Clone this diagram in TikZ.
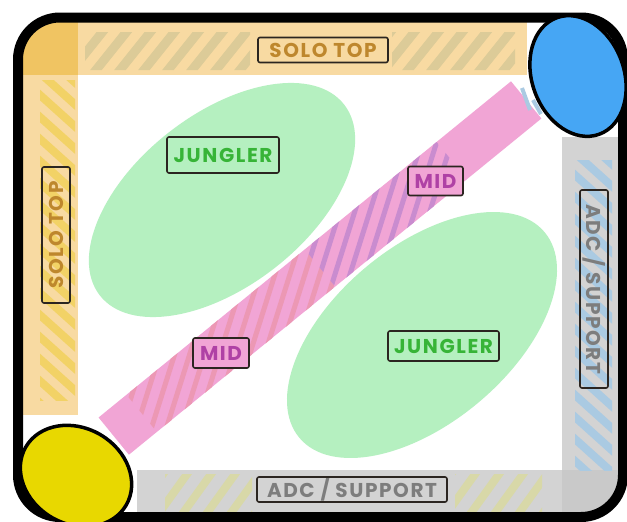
\documentclass[tikz,border=0pt]{standalone}
\usepackage{fontspec}
\newfontfamily\lblfont{Poppins}[LetterSpace=8]
\definecolor{bandorange}{HTML}{F8DAA2}
\definecolor{cornerorange}{HTML}{F0C462}
\definecolor{bandgray}{HTML}{D3D3D3}
\definecolor{cornergray}{HTML}{C9C9C9}
\definecolor{hatchtan}{HTML}{DCCB98}
\definecolor{hatchyellow}{HTML}{F2D266}
\definecolor{hatchblue}{HTML}{AACAE2}
\definecolor{hatchkhaki}{HTML}{D8D8A8}
\definecolor{lanepink}{HTML}{F1A5D5}
\definecolor{hatchpurple}{HTML}{C98CCF}
\definecolor{hatchsalmon}{HTML}{EC98B4}
\definecolor{junglegreen}{HTML}{B5F0C0}
\definecolor{bluebase}{HTML}{46A6F4}
\definecolor{yellowbase}{HTML}{E8D800}
\definecolor{txtsolo}{HTML}{BE872D}
\definecolor{txtjungle}{HTML}{37B437}
\definecolor{txtmid}{HTML}{AF41A5}
\definecolor{txtadc}{HTML}{7D7D7D}
\definecolor{lblborder}{HTML}{2B2520}
\begin{document}
\begin{tikzpicture}[x=1pt,y=-1pt,
  lbl/.style={draw=lblborder, line width=1.6pt, rounded corners=2pt, inner sep=0pt,
    font=\lblfont\bfseries\fontsize{20}{20}\selectfont},
  stripe/.style={line width=#1},
  base/.style={draw=black, line width=3.5pt}]
\useasboundingbox (0,0) rectangle (627,522);
\fill[white] (0,0) rectangle (627,522);
\begin{scope}
\clip[rounded corners=42pt] (18,17.5) rectangle (623,517);
% lanes along the edges
\fill[bandorange] (18,17) rectangle (527,75);
\fill[bandorange] (18,17) rectangle (78,415);
\fill[cornerorange] (18,17) rectangle (78,75);
\fill[bandgray] (562,137) rectangle (623,517);
\fill[bandgray] (137,470) rectangle (623,517);
\fill[cornergray] (562,470) rectangle (623,517);
\end{scope}
% hatches
\begin{scope}
  \clip (85,32) rectangle (250,70) (392,32) rectangle (515,70);
  \foreach \x in {40,64,...,540} \draw[hatchtan, stripe=9pt] (\x,80) -- ++(44,-55);
\end{scope}
\begin{scope}
  \clip (40,80) rectangle (75,400);
  \foreach \y in {20,42,...,420} \draw[hatchyellow, stripe=8pt] (30,\y) -- ++(50,45);
\end{scope}
\begin{scope}
  \clip (575,160) rectangle (612,470);
  \foreach \y in {100,122,...,480} \draw[hatchblue, stripe=8pt] (565,\y) -- ++(50,45);
\end{scope}
\begin{scope}
  \clip (165,474) rectangle (252,512) (455,474) rectangle (542,512);
  \foreach \x in {130,154,...,560} \draw[hatchkhaki, stripe=8pt] (\x,520) -- ++(36,-50);
\end{scope}
% jungle areas
\fill[junglegreen, rotate around={38:(222,200)}] (222,200) ellipse [x radius=155pt, y radius=86pt];
\fill[junglegreen, rotate around={40:(422,335)}] (422,335) ellipse [x radius=160pt, y radius=88pt];
% mid lane
\fill[lanepink] (98.6,417.5) -- (128.9,454.7) -- (541.4,118.5) -- (511.0,81.3) -- cycle;
\begin{scope}
  \clip (126.5,394.8) -- (156.9,432) -- (335.2,286.6) -- (304.8,249.4) -- cycle;
  \foreach \x in {0,15,...,600} \draw[hatchsalmon, stripe=5pt] (\x,480) -- ++(120,-380);
\end{scope}
\begin{scope}
  \clip (304.8,249.4) -- (335.2,286.6) -- (467,179.2) -- (436.6,142) -- cycle;
  \foreach \x in {0,15,...,600} \draw[hatchpurple, stripe=5pt] (\x,480) -- ++(120,-380);
\end{scope}
\draw[hatchblue, stripe=4pt] (522,88) -- (530,110);
\draw[hatchblue, stripe=4pt] (533,100) -- (541,114);
% labels
\node[lbl, text=txtsolo, minimum width=130pt, minimum height=25pt] (soloA) at (323,50) {SOLO TOP};
\node[lbl, text=txtsolo, minimum width=136pt, minimum height=28pt, rotate=90] (soloB) at (56,235) {SOLO TOP};
\node[lbl, text=txtjungle, minimum width=112pt, minimum height=36pt] (jungA) at (223,155) {JUNGLER};
\node[lbl, text=txtjungle, minimum width=111pt, minimum height=30pt] (jungB) at (443.5,346) {JUNGLER};
\node[lbl, text=txtmid, fill=lanepink, minimum width=55pt, minimum height=29pt] (midA) at (435.5,181) {MID};
\node[lbl, text=txtmid, fill=lanepink, minimum width=56pt, minimum height=30pt] (midB) at (221,353) {MID};
\node[lbl, text=txtadc, minimum width=190pt, minimum height=25pt] (adcA) at (352,489.5) {ADC / SUPPORT};
\node[lbl, text=txtadc, minimum width=198pt, minimum height=28pt, rotate=-90] (adcB) at (594,289) {ADC / SUPPORT};
% map border
\draw[line width=10pt, rounded corners=42pt] (18,17.5) rectangle (623,517);
% bases
\draw[base, fill=bluebase, rotate around={20:(578,76)}] (578,76) ellipse [x radius=46pt, y radius=62pt];
\draw[base, fill=yellowbase, rotate around={-30:(76,476)}] (76,476) ellipse [x radius=58pt, y radius=48pt];
\end{tikzpicture}
\end{document}
